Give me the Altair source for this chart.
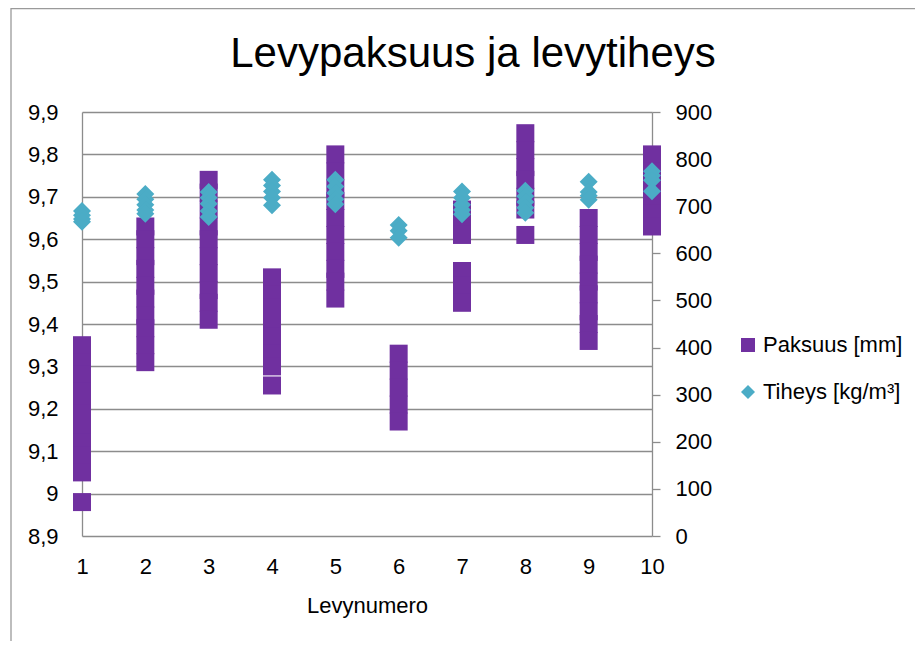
import altair as alt
import pandas as pd

# Plate numbers (Levynumero)
levyt = [1, 2, 3, 4, 5, 6, 7, 8, 9, 10]

# Paksuus [mm] measurements per plate (left axis)
paksuus_1 = [9.35, 9.31, 9.28, 9.24, 9.21, 9.19, 9.15, 9.12, 9.09, 9.05, 8.98]
paksuus_2 = [9.63, 9.60, 9.56, 9.53, 9.49, 9.46, 9.42, 9.39, 9.35, 9.31]
paksuus_3 = [9.74, 9.71, 9.67, 9.63, 9.60, 9.56, 9.52, 9.48, 9.45, 9.41]
paksuus_4 = [9.51, 9.47, 9.44, 9.40, 9.37, 9.33, 9.30, 9.255]
paksuus_5 = [9.80, 9.76, 9.72, 9.69, 9.65, 9.61, 9.57, 9.53, 9.50, 9.46]
paksuus_6 = [9.33, 9.29, 9.25, 9.21, 9.17]
paksuus_7 = [9.67, 9.64, 9.61, 9.525, 9.49, 9.45]
paksuus_8 = [9.85, 9.81, 9.77, 9.74, 9.70, 9.67, 9.61]
paksuus_9 = [9.65, 9.61, 9.57, 9.54, 9.50, 9.47, 9.43, 9.40, 9.36]
paksuus_10 = [9.80, 9.76, 9.72, 9.69, 9.66, 9.63]

# Tiheys [kg/m3] measurements per plate (right axis)
tiheys_1 = [690, 681, 673, 667]
tiheys_2 = [726, 715, 703, 692, 684]
tiheys_3 = [730, 718, 705, 690, 677]
tiheys_4 = [756, 744, 731, 718, 702]
tiheys_5 = [756, 742, 728, 715, 704]
tiheys_6 = [660, 648, 633]
tiheys_7 = [731, 718, 703, 692, 683]
tiheys_8 = [733, 721, 709, 697, 686]
tiheys_9 = [752, 730, 722, 714]
tiheys_10 = [774, 765, 755, 732]

title_text = "Levypaksuus ja levytiheys"
series = ["Paksuus [mm]", "Tiheys [kg/m³]"]
left_ticks = [8.9, 9.0, 9.1, 9.2, 9.3, 9.4, 9.5, 9.6, 9.7, 9.8, 9.9]
right_ticks = [0, 100, 200, 300, 400, 500, 600, 700, 800, 900]

paksuus_all = [paksuus_1, paksuus_2, paksuus_3, paksuus_4, paksuus_5,
               paksuus_6, paksuus_7, paksuus_8, paksuus_9, paksuus_10]
tiheys_all = [tiheys_1, tiheys_2, tiheys_3, tiheys_4, tiheys_5,
              tiheys_6, tiheys_7, tiheys_8, tiheys_9, tiheys_10]

rows_p = [{"levy": l, "paksuus": v, "sarja": series[0]}
          for l, vals in zip(levyt, paksuus_all) for v in vals]
rows_t = [{"levy": l, "tiheys": v, "sarja": series[1]}
          for l, vals in zip(levyt, tiheys_all) for v in vals]
df_p = pd.DataFrame(rows_p)
df_t = pd.DataFrame(rows_t)

FONT = "Liberation Sans"
GRID = "#8c8c8c"

legend = alt.Legend(title=None, orient="none", legendX=655, legendY=222,
                    labelFontSize=22, labelFont=FONT, labelColor="#000000",
                    symbolSize=196, symbolStrokeWidth=0, labelOffset=4,
                    rowPadding=25, padding=0, labelLimit=300)
color = alt.Color("sarja:N", scale=alt.Scale(domain=series, range=["#7030A0", "#4BACC6"]),
                  legend=legend)
shape = alt.Shape("sarja:N", scale=alt.Scale(domain=series, range=["square", "diamond"]),
                  legend=legend)

x_enc = alt.X("levy:Q", scale=alt.Scale(domain=[1, 10], nice=False, zero=False),
              axis=alt.Axis(values=levyt, format="d", title="Levynumero", ticks=False,
                            domain=False, grid=False, labelFlush=False,
                            labelFontSize=22, labelFont=FONT, labelColor="#000000",
                            labelPadding=20, titleFontSize=22, titleFont=FONT,
                            titleFontWeight="normal", titleColor="#000000", titlePadding=18))

points_p = alt.Chart(df_p).mark_point(filled=True, size=324, opacity=1, strokeWidth=0).encode(
    x=x_enc,
    y=alt.Y("paksuus:Q", scale=alt.Scale(domain=[8.9, 9.9], nice=False, zero=False),
            axis=alt.Axis(values=left_ticks, title=None, ticks=False, domain=True,
                          domainColor=GRID, domainWidth=1.3, grid=True, gridColor=GRID,
                          gridWidth=1.3, labelFontSize=22, labelFont=FONT,
                          labelColor="#000000", labelPadding=24,
                          labelExpr="replace(toString(round(datum.value*10)/10), '.', ',')")),
    color=color,
    shape=shape,
)

points_t = alt.Chart(df_t).mark_point(filled=True, size=324, opacity=1, strokeWidth=0).encode(
    x=alt.X("levy:Q", scale=alt.Scale(domain=[1, 10], nice=False, zero=False)),
    y=alt.Y("tiheys:Q", scale=alt.Scale(domain=[0, 900], nice=False),
            axis=alt.Axis(orient="right", values=right_ticks, title=None, grid=False,
                          ticks=True, tickSize=8, tickColor=GRID, tickWidth=1.3,
                          domain=True, domainColor=GRID, domainWidth=1.3,
                          labelFontSize=22, labelFont=FONT, labelColor="#000000",
                          labelPadding=15)),
    color=color,
    shape=shape,
)

frame = pd.DataFrame({"k": [0]})

# chart title, centred over the whole chart area (plot + legend)
title_mark = alt.Chart(frame).mark_text(
    fontSize=42, font=FONT, color="#000000", align="center", baseline="alphabetic"
).encode(x=alt.value(391), y=alt.value(-45), text=alt.value(title_text))

# outer chart-area border (top and left edges visible in the crop)
border_top = alt.Chart(frame).mark_rule(color="#9a9a9a", strokeWidth=1.3).encode(
    x=alt.value(-71), x2=alt.value(840), y=alt.value(-103.5))
border_left = alt.Chart(frame).mark_rule(color="#9a9a9a", strokeWidth=1.3).encode(
    x=alt.value(-71), y=alt.value(-104), y2=alt.value(540))

chart = alt.layer(points_p, points_t, title_mark, border_top, border_left).resolve_scale(
    y="independent").properties(
    width=570,
    height=424,
    autosize=alt.AutoSizeParams(type="none"),
    padding={"left": 74, "top": 104, "right": 263, "bottom": 105},
).configure_view(stroke=None)

chart.save("out.html", embed_options={"renderer": "svg", "actions": False})
